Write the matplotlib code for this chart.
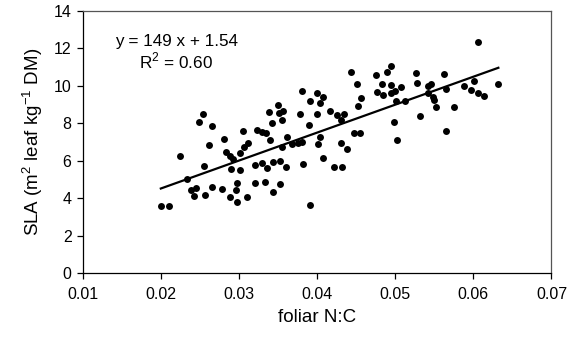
import matplotlib
matplotlib.use("Agg")
import matplotlib.pyplot as plt
import numpy as np

plt.rcParams['font.family'] = ['Liberation Sans', 'DejaVu Sans']
plt.rcParams['mathtext.fontset'] = 'custom'
plt.rcParams['mathtext.rm'] = 'Liberation Sans'

foliar_nc = [
    0.0200, 0.0210, 0.0224, 0.0234, 0.0238, 0.0245, 0.0242, 0.0249, 0.0254, 0.0255,
    0.0257, 0.0265, 0.0266, 0.0262, 0.0278, 0.0281, 0.0284, 0.0288, 0.0293, 0.0289,
    0.0290, 0.0301, 0.0298, 0.0296, 0.0298, 0.0301, 0.0306, 0.0311, 0.0305, 0.0310,
    0.0321, 0.0321, 0.0323, 0.0330, 0.0330, 0.0333, 0.0335, 0.0336, 0.0339, 0.0342,
    0.0340, 0.0343, 0.0343, 0.0350, 0.0351, 0.0356, 0.0355, 0.0352, 0.0353, 0.0355,
    0.0360, 0.0362, 0.0368, 0.0375, 0.0381, 0.0378, 0.0381, 0.0382, 0.0390, 0.0391,
    0.0391, 0.0400, 0.0408, 0.0404, 0.0400, 0.0404, 0.0401, 0.0407, 0.0417, 0.0426,
    0.0434, 0.0430, 0.0422, 0.0432, 0.0431, 0.0438, 0.0444, 0.0451, 0.0456, 0.0452,
    0.0447, 0.0455, 0.0476, 0.0490, 0.0495, 0.0483, 0.0494, 0.0507, 0.0477, 0.0484,
    0.0494, 0.0500, 0.0501, 0.0512, 0.0499, 0.0502, 0.0526, 0.0528, 0.0532, 0.0542,
    0.0546, 0.0542, 0.0548, 0.0550, 0.0552, 0.0562, 0.0565, 0.0575, 0.0565, 0.0588,
    0.0601, 0.0597, 0.0606, 0.0613, 0.0606, 0.0632,
]
sla = [
    3.59, 3.57, 6.24, 5.02, 4.42, 4.55, 4.13, 8.09, 8.51, 5.70,
    4.18, 4.59, 7.86, 6.85, 4.48, 7.15, 6.49, 6.26, 6.09, 4.09,
    5.55, 5.49, 4.81, 4.45, 3.81, 6.44, 6.73, 6.97, 7.56, 4.09,
    5.76, 4.81, 7.65, 7.51, 5.87, 4.87, 7.47, 5.61, 8.59, 8.02,
    7.09, 5.94, 4.36, 8.99, 8.53, 8.67, 8.18, 4.77, 6.00, 6.72,
    5.65, 7.29, 6.90, 6.94, 7.01, 8.48, 9.73, 5.84, 7.92, 9.20,
    3.65, 9.61, 9.41, 9.07, 8.47, 7.29, 6.90, 6.17, 8.63, 8.43,
    8.48, 8.18, 5.69, 5.69, 6.94, 6.63, 10.73, 10.08, 9.33, 8.92,
    7.46, 7.46, 10.55, 10.72, 11.03, 10.09, 10.03, 9.92, 9.65, 9.49,
    9.61, 9.71, 9.20, 9.16, 8.05, 7.12, 10.68, 10.14, 8.37, 10.00,
    10.10, 9.61, 9.41, 9.25, 8.85, 10.62, 9.82, 8.85, 7.58, 10.00,
    10.23, 9.79, 9.61, 9.47, 12.33, 10.09,
]
slope = 149
intercept = 1.54
r_squared = 0.60

x_ticks = [0.01, 0.02, 0.03, 0.04, 0.05, 0.06, 0.07]
y_ticks = [0, 2, 4, 6, 8, 10, 12, 14]

fig = plt.figure(figsize=(5.86, 3.46), dpi=100)
ax = fig.add_axes([0.1411, 0.2101, 0.800, 0.759])

ax.plot(foliar_nc, sla, 'o', color='black', ms=5.0, mec='black', mew=0, zorder=3)
xl = np.array([min(foliar_nc), max(foliar_nc)])
ax.plot(xl, slope * xl + intercept, color='black', lw=1.6, zorder=4)

ax.set_xlim(0.01, 0.07)
ax.set_ylim(0, 14)
ax.set_xticks(x_ticks)
ax.set_yticks(y_ticks)
ax.set_xticklabels([f"{v:.2f}" for v in x_ticks])
ax.set_yticklabels([str(v) for v in y_ticks])
ax.tick_params(axis='both', direction='out', length=4, width=0.9, labelsize=11.5,
               colors='black')
ax.tick_params(axis='x', pad=6)
ax.tick_params(axis='y', pad=4)

for side in ['left', 'bottom']:
    ax.spines[side].set_color('black')
    ax.spines[side].set_linewidth(0.9)
for side in ['top', 'right']:
    ax.spines[side].set_color('#555555')
    ax.spines[side].set_linewidth(0.9)

ax.set_xlabel('foliar N:C', fontsize=13.5, labelpad=5)
ax.set_ylabel('SLA (m$^{2}$ leaf kg$^{-1}$ DM)', fontsize=13.5, labelpad=6)

ax.text(0.0141, 12.35, f'y = {slope} x + {intercept}', fontsize=12.3, ha='left', va='center')
ax.text(0.0172, 11.3, 'R$^{2}$ = ' + f'{r_squared:.2f}', fontsize=12.3, ha='left', va='center')

fig.savefig('out.png', dpi=100)
